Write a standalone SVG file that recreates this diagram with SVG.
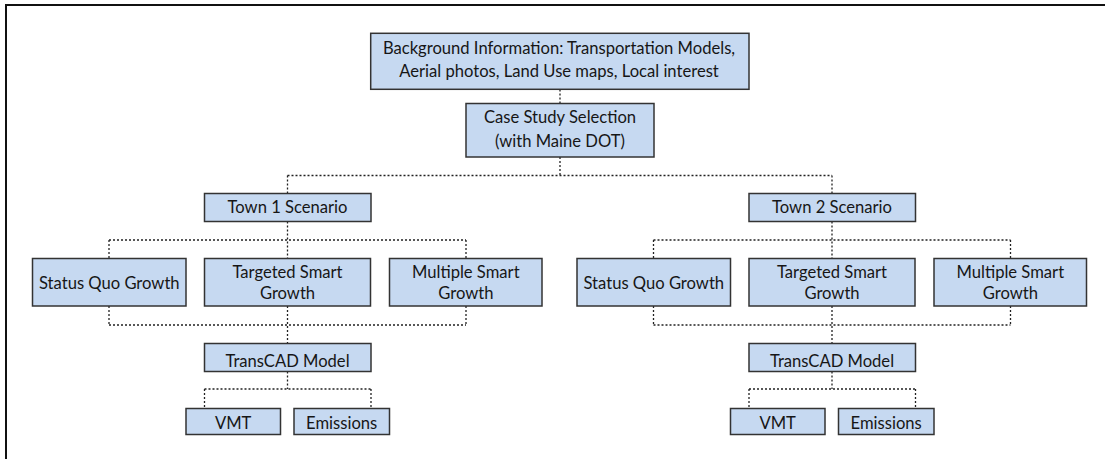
<svg xmlns="http://www.w3.org/2000/svg" width="1105" height="459" viewBox="0 0 1105 459">
<style>
.box{fill:#c6d9f1;stroke:#333;stroke-width:1.5}
.t{font-family:Lato,"Liberation Sans",sans-serif;font-size:16.6px;fill:#161616;text-anchor:middle}
.c{fill:none;stroke:#222;stroke-width:1.3;stroke-dasharray:2 2}
</style>
<rect width="1105" height="459" fill="#fff"/>
<path d="M6 459 V5 H1105" fill="none" stroke="#111" stroke-width="2"/>
<g id="connectors">
<path class="c" d="M560 89.5 V103.5 M560 157 V175.5 M287.5 175.5 H832 M287.5 175.5 V193.5 M832 175.5 V193.5"/>
<path class="c" d="M287.5 221.5 V258.5 M109 240 H466 M109 240 V258.5 M466 240 V258.5 M109 306 V325 M466 306 V325 M109 325 H466 M287.5 306 V343.5 M287.5 371.5 V389 M204.5 389 H371 M204.5 389 V408.5 M371 389 V408.5"/>
<path class="c" d="M832 221.5 V258.5 M653.5 240 H1010.5 M653.5 240 V258.5 M1010.5 240 V258.5 M653.5 306 V325 M1010.5 306 V325 M653.5 325 H1010.5 M832 306 V343.5 M832 371.5 V389 M749 389 H915.5 M749 389 V408.5 M915.5 389 V408.5"/>
</g>
<g id="background"><rect class="box" x="370.7" y="33.3" width="378.3" height="56"/><text class="t" x="559" y="53.5">Background Information: Transportation Models,</text><text class="t" x="559" y="76.5">Aerial photos, Land Use maps, Local interest</text></g>
<g id="case-study"><rect class="box" x="466" y="103.5" width="188" height="53.5"/><text class="t" x="560" y="122.5">Case Study Selection</text><text class="t" x="560" y="146.5">(with Maine DOT)</text></g>
<g id="town1"><rect class="box" x="204.5" y="193.5" width="166.5" height="28"/><text class="t" x="287.5" y="212.5">Town 1 Scenario</text></g>
<g id="town2"><rect class="box" x="749" y="193.5" width="166.5" height="28"/><text class="t" x="832" y="212.5">Town 2 Scenario</text></g>
<g id="status-quo-1"><rect class="box" x="32.5" y="258.5" width="153.5" height="47.5"/><text class="t" x="109.3" y="289">Status Quo Growth</text></g>
<g id="targeted-1"><rect class="box" x="204.5" y="258.5" width="166" height="47.5"/><text class="t" x="287.5" y="277.5">Targeted Smart</text><text class="t" x="287.5" y="299">Growth</text></g>
<g id="multiple-1"><rect class="box" x="389.5" y="258.5" width="152.5" height="47.5"/><text class="t" x="465.8" y="277.5">Multiple Smart</text><text class="t" x="465.8" y="299">Growth</text></g>
<g id="status-quo-2"><rect class="box" x="577" y="258.5" width="153.5" height="47.5"/><text class="t" x="653.8" y="289">Status Quo Growth</text></g>
<g id="targeted-2"><rect class="box" x="749" y="258.5" width="166" height="47.5"/><text class="t" x="832" y="277.5">Targeted Smart</text><text class="t" x="832" y="299">Growth</text></g>
<g id="multiple-2"><rect class="box" x="934" y="258.5" width="152.5" height="47.5"/><text class="t" x="1010.3" y="277.5">Multiple Smart</text><text class="t" x="1010.3" y="299">Growth</text></g>
<g id="transcad-1"><rect class="box" x="204.5" y="343.5" width="166.5" height="28"/><text class="t" x="287.5" y="366.5">TransCAD Model</text></g>
<g id="transcad-2"><rect class="box" x="749" y="343.5" width="166.5" height="28"/><text class="t" x="832" y="366.5">TransCAD Model</text></g>
<g id="vmt-1"><rect class="box" x="186" y="408.5" width="94.5" height="26"/><text class="t" x="233.2" y="429">VMT</text></g>
<g id="emissions-1"><rect class="box" x="294" y="408.5" width="95.5" height="26"/><text class="t" x="341.7" y="429">Emissions</text></g>
<g id="vmt-2"><rect class="box" x="730.5" y="408.5" width="94.5" height="26"/><text class="t" x="777.7" y="429">VMT</text></g>
<g id="emissions-2"><rect class="box" x="838.5" y="408.5" width="95.5" height="26"/><text class="t" x="886.2" y="429">Emissions</text></g>
</svg>
